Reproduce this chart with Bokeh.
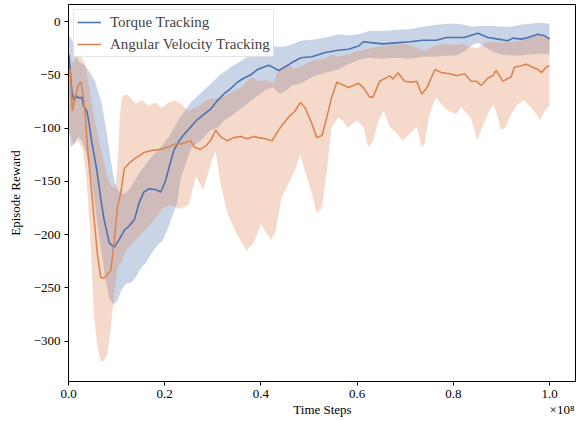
from bokeh.plotting import figure
from bokeh.models import (Range1d, FixedTicker, CustomJSTickFormatter, PrintfTickFormatter,
                          Legend, LegendItem, LinearAxis)
from bokeh.embed import file_html
from bokeh.resources import INLINE

# ---------------- data (time steps in millions, rewards) ----------------
torque_x = [0.1, 0.7, 1.2, 1.7, 2.2, 2.8, 3.1, 3.8, 4.3, 4.8, 5.4, 5.9, 6.7, 7.4, 8.5, 9.5,
            10.5, 11.6, 12.6, 13.7, 14.7, 15.7, 16.8, 18.2, 19.2, 20.2, 20.9, 21.9, 23.0, 24.0,
            25.4, 26.8, 28.2, 29.6, 31.0, 32.3, 33.7, 35.1, 36.5, 37.9, 39.3, 41.6, 42.5, 43.7,
            44.5, 46.3, 48.3, 50.6, 53.4, 56.1, 58.2, 60.3, 61.3, 63.3, 65.4, 68.2, 71.0, 73.7,
            76.5, 78.6, 80.7, 82.3, 85.1, 87.2, 89.3, 91.3, 92.4, 94.1, 95.5, 97.6, 99.0, 100.0]
torque_mean = [-31, -66, -74, -70, -72, -71, -79, -84, -96, -112, -127, -140, -166, -186, -208, -212,
               -205, -196, -192, -186, -170, -160, -157, -158, -160, -149, -137, -121, -112, -106,
               -99, -92, -87, -82, -74, -68, -63, -57, -53, -50, -45, -41, -43, -46,
               -44, -39, -34, -33, -29, -27, -26, -23, -19, -20, -21, -20, -19, -17.5,
               -17.5, -15, -15, -15, -11, -15, -16.5, -18, -15.6, -16.5, -15, -12, -13.4, -16.5]

torque_hi_x = [0.0, 0.8, 1.5, 2.2, 3.0, 3.5, 4.2, 5.5, 6.9, 8.0, 8.7, 9.5, 10.5, 11.6, 12.6, 13.7,
               14.7, 15.7, 17.3, 19.2, 20.9, 22.9, 25.4, 27.5, 29.5, 31.5, 33.7, 35.8, 37.8, 40.0,
               42.0, 44.0, 46.2, 48.2, 50.6, 53.4, 56.1, 58.2, 60.3, 62.5, 65.0, 68.0, 71.0, 73.7,
               76.5, 78.6, 80.7, 82.3, 84.0, 86.0, 88.0, 90.0, 92.0, 94.0, 96.0, 98.0, 100.0]
torque_hi = [-12, -18, -30, -38, -40, -42, -46, -56, -77, -106, -127, -150, -160, -162, -158, -150,
             -142, -136, -127, -118, -108, -92, -76, -67, -59, -50, -43, -37, -32, -26,
             -23, -24, -22, -18, -17, -15, -12, -13, -12, -9, -9, -8, -7, -5,
             -3, -2, -2, -3, -5, -4, -4, -5, -5, -3, -2, -1, -2]

torque_lo_x = [0.0, 0.5, 1.2, 2.0, 2.8, 3.6, 4.5, 5.3, 6.0, 6.8, 7.6, 8.5, 9.3, 10.2, 11.0, 12.0,
               13.0, 14.0, 15.0, 16.0, 17.2, 18.5, 19.5, 20.5, 21.5, 22.6, 23.3, 24.0, 25.4, 26.5,
               27.5, 29.5, 31.0, 32.3, 34.0, 35.8, 37.5, 39.3, 41.0, 42.5, 44.0, 45.5, 46.4, 48.5,
               50.6, 53.4, 56.1, 58.2, 60.3, 62.5, 65.0, 68.0, 71.0, 73.7, 76.5, 78.6, 80.7, 82.3,
               84.0, 85.1, 86.5, 88.0, 90.0, 92.0, 94.0, 96.0, 98.0, 100.0]
torque_lo = [-100, -118, -115, -108, -112, -122, -140, -165, -190, -215, -240, -260, -266, -262, -252, -246,
             -245, -240, -232, -227, -218, -210, -206, -196, -184, -170, -148, -138, -120, -115,
             -112, -102, -100, -93, -88, -82, -76, -70, -64, -62, -68, -64, -60, -58,
             -52, -48, -45, -40, -36, -34, -35, -34, -35, -33, -33, -32, -32, -28,
             -22, -20, -24, -28, -31, -32, -32, -31, -30, -31]

angvel_x = [0.1, 0.35, 0.8, 1.4, 2.1, 2.6, 3.1, 3.6, 4.0, 4.5, 5.3, 6.0, 6.7, 7.4, 8.1, 8.8,
            9.5, 10.2, 10.9, 11.6, 12.6, 13.7, 14.7, 15.7, 17.3, 19.2, 21.2, 22.2, 23.3, 25.4,
            26.2, 27.3, 28.5, 29.5, 30.6, 31.6, 33.0, 34.4, 35.8, 37.2, 38.5, 39.5, 40.9, 42.3,
            43.4, 44.3, 45.7, 47.1, 48.2, 49.2, 50.6, 51.6, 52.7, 53.7, 54.7, 55.8, 56.8, 58.2,
            60.3, 61.3, 62.6, 63.3, 64.7, 66.8, 67.5, 68.5, 69.9, 71.3, 72.4, 73.4, 74.4, 76.2,
            77.5, 79.3, 80.7, 82.3, 83.7, 84.8, 85.8, 87.2, 88.2, 88.9, 90.3, 92.0, 92.7, 94.1,
            95.2, 96.5, 97.6, 98.3, 99.3, 100.0]
angvel_mean = [-46, -45, -84, -71, -59, -57, -71, -96, -121, -145, -184, -218, -240, -241, -237, -234,
               -206, -174, -160, -138, -133, -129, -126, -123, -121, -120, -117, -115, -115, -112,
               -118, -120, -117, -112, -102, -108, -112, -109, -108, -110, -108, -109, -110, -112,
               -104, -98, -90, -84, -76, -81, -96, -109, -107, -90, -71, -57, -59, -62,
               -58, -62, -71, -71, -56, -51, -54, -48, -56, -57, -56, -68, -63, -45,
               -48, -49, -51, -49, -56, -56, -60, -53, -51, -46, -56, -52, -43, -41.5,
               -40, -43, -45, -48, -43, -41.5]

angvel_hi_x = [0.0, 1.0, 2.1, 2.8, 3.5, 4.2, 5.2, 6.0, 7.0, 8.0, 9.0, 9.8, 10.3, 10.7, 11.1, 12.0,
               13.0, 13.9, 15.3, 16.7, 18.0, 19.4, 20.8, 22.2, 23.5, 25.0, 27.0, 29.0, 31.0, 32.5,
               34.0, 36.0, 38.0, 39.5, 41.0, 42.5, 43.5, 44.5, 45.5, 47.0, 48.5, 50.0, 51.5, 53.4,
               54.7, 56.0, 58.0, 60.0, 62.0, 64.0, 66.0, 68.0, 70.0, 72.0, 74.0, 76.0, 78.0, 80.0,
               82.0, 83.7, 85.1, 86.5, 88.0, 90.0, 92.0, 94.0, 96.0, 98.0, 100.0]
angvel_hi = [-43, -38, -32, -34, -40, -59, -87, -105, -125, -145, -155, -156, -125, -88, -71, -68,
             -72, -77, -74, -79, -76, -81, -76, -74, -78, -84, -80, -73, -72, -70,
             -66, -62, -52, -56, -55, -58, -48, -42, -40, -44, -42, -38, -36, -35,
             -31, -33, -31, -28, -26, -24, -23, -22, -21, -24, -28, -23, -21, -22,
             -21, -24, -25, -20, -19, -20, -19, -18, -14, -13, -15]

angvel_lo_x = [0.0, 1.0, 2.0, 3.0, 3.8, 4.5, 5.3, 6.0, 6.7, 7.4, 8.1, 8.8, 9.5, 10.2, 11.0, 12.0,
               13.0, 14.0, 15.0, 16.0, 17.0, 18.5, 19.5, 21.0, 23.0, 25.0, 26.5, 28.0, 30.0, 30.6,
               31.5, 33.0, 35.0, 37.0, 38.5, 40.0, 42.0, 43.0, 44.3, 46.0, 47.0, 48.2, 49.0, 50.5,
               51.6, 52.7, 53.7, 54.7, 56.0, 57.0, 58.0, 59.0, 60.0, 61.3, 62.3, 63.3, 64.5, 65.5,
               66.8, 68.2, 69.5, 71.0, 72.4, 73.4, 74.0, 75.0, 76.4, 77.5, 79.0, 80.7, 81.5, 83.6,
               84.2, 85.0, 86.0, 87.2, 88.2, 88.9, 89.9, 90.9, 92.0, 93.3, 94.7, 96.0, 97.3, 98.0,
               99.0, 100.0]
angvel_lo = [-100, -115, -112, -120, -150, -200, -277, -305, -320, -318, -312, -287, -255, -232, -225, -215,
             -210, -205, -200, -195, -190, -182, -176, -172, -176, -172, -145, -158, -128, -122,
             -150, -180, -200, -215, -208, -190, -205, -198, -165, -150, -140, -125, -138, -160,
             -180, -175, -140, -100, -90, -93, -100, -96, -93, -99, -118, -112, -93, -84,
             -99, -105, -112, -105, -99, -118, -115, -88, -71, -78, -84, -87, -80, -90,
             -99, -112, -99, -87, -78, -84, -102, -99, -87, -78, -74, -80, -87, -93,
             -84, -79]

x_ticks = [0, 0.2, 0.4, 0.6, 0.8, 1.0]
y_ticks = [0, -50, -100, -150, -200, -250, -300]
x_label = "Time Steps"
y_label = "Episode Reward"
x_offset_text = "\u00d710\u2078"

# ---------------- plot ----------------
BLUE = "#4C72B0"
ORANGE = "#DD8452"
FONT = "Liberation Serif"
X_MAX = 1.054
Y_MIN, Y_MAX = -338, 16

p = figure(width=582, height=421, output_backend="svg", toolbar_location=None,
           x_range=Range1d(0, X_MAX), y_range=Range1d(Y_MIN, Y_MAX),
           min_border_left=68, min_border_right=7, min_border_top=4, min_border_bottom=40)

def sx(vals):
    return [v / 100.0 for v in vals]

for hx, hy, lx, ly, col in [(torque_hi_x, torque_hi, torque_lo_x, torque_lo, BLUE),
                            (angvel_hi_x, angvel_hi, angvel_lo_x, angvel_lo, ORANGE)]:
    p.patch(sx(hx) + sx(lx[::-1]), hy + ly[::-1], fill_color=col, fill_alpha=0.3, line_color=None)

r1 = p.line(sx(torque_x), torque_mean, line_color=BLUE, line_width=1.6)
r2 = p.line(sx(angvel_x), angvel_mean, line_color=ORANGE, line_width=1.6)

legend = Legend(items=[LegendItem(label="Torque Tracking", renderers=[r1]),
                       LegendItem(label="Angular Velocity Tracking", renderers=[r2])],
                location="top_left")
legend.label_text_font = FONT
legend.label_text_font_size = "15px"
legend.border_line_color = "#cccccc"
legend.border_line_width = 1
legend.background_fill_alpha = 0.85
legend.padding = 3
legend.margin = 5
legend.spacing = 4
legend.label_height = 18
legend.glyph_height = 18
legend.glyph_width = 24
legend.label_standoff = 9
p.add_layout(legend)

p.grid.visible = False
p.outline_line_color = "black"
p.outline_line_width = 1
p.outline_line_alpha = 1

p.xaxis.ticker = FixedTicker(ticks=x_ticks)
p.xaxis.formatter = PrintfTickFormatter(format="%.1f")
p.yaxis.ticker = FixedTicker(ticks=y_ticks)
p.yaxis.formatter = CustomJSTickFormatter(code="return tick < 0 ? '\u2212' + Math.abs(tick) : '' + tick;")

for ax in (p.xaxis, p.yaxis):
    ax.major_label_text_font = FONT
    ax.major_label_text_font_size = "13px"
    ax.axis_label_text_font = FONT
    ax.axis_label_text_font_size = "13px"
    ax.axis_label_text_font_style = "normal"
    ax.minor_tick_line_color = None
    ax.major_tick_out = 4
    ax.major_tick_in = 0
    ax.major_tick_line_color = "black"
    ax.axis_line_color = "black"
    ax.major_label_text_color = "black"
    ax.axis_label_text_color = "black"
    ax.major_label_standoff = 4

p.yaxis.axis_label = y_label
p.yaxis.axis_label_standoff = 8

# second row below the x tick labels: axis title centred and the x10^8 offset text at the right
label_pos = [0.528, 1.026]
label_axis = LinearAxis(ticker=FixedTicker(ticks=label_pos),
                        major_label_overrides={label_pos[0]: x_label, label_pos[1]: x_offset_text},
                        axis_line_color=None, major_tick_line_color=None, minor_tick_line_color=None,
                        major_tick_out=0, major_tick_in=0, major_label_standoff=1,
                        major_label_text_font=FONT, major_label_text_font_size="13px",
                        major_label_text_color="black")
p.add_layout(label_axis, "below")

open("out.html", "w").write(file_html(p, INLINE))
